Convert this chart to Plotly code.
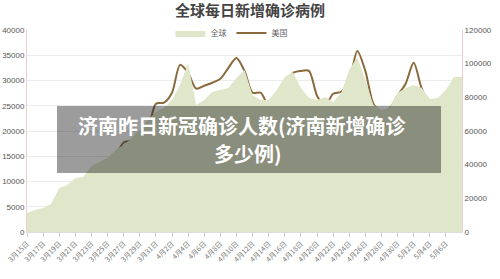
import plotly.graph_objects as go

# dates 3/15 .. 5/8
dates = [f"3月{d}日" for d in range(15, 32)] + [f"4月{d}日" for d in range(1, 31)] + [f"5月{d}日" for d in range(1, 9)]

global_cases = [11290, 13070, 14260, 16630, 26140, 27920, 32080, 32670, 39200, 41580,
                43960, 48700, 51680, 55840, 60590, 66530, 71280, 73660, 78410, 87320,
                100390, 75440, 78410, 83160, 84350, 85540, 91480, 96230, 81380, 78410,
                78410, 84350, 92070, 95040, 85540, 79600, 78410, 80190, 77220, 82570,
                96230, 103950, 90290, 75440, 72470, 73660, 82570, 85540, 87320, 85540,
                79000, 79600, 84350, 92070, 92070]

us_cases = [None, None, 1576, 985, 5320, 5120, 6100, 7880, 10050, 9650,
            10835, 14775, 17730, 18120, 19300, 20490, 25400, 25600, 27580, 33100,
            31500, 28400, 28960, 29550, 30340, 32500, 34475, 31900, 27580, 27580,
            25020, 25020, 28960, 31500, 31900, 31900, 27000, 25020, 27380, 27780,
            29940, 35850, 31900, 25400, 23640, 24430, 27000, 29350, 33500, 28370,
            25020, 22460, 24030, 24430, 28370]

tick_labels = dates[0:53:2]

title_text = "全球每日新增确诊病例"
overlay_line1 = "济南昨日新冠确诊人数(济南新增确诊"
overlay_line2 = "多少例)"

fig = go.Figure()
fig.add_trace(go.Scatter(
    x=dates, y=global_cases, name="全球", mode="lines",
    line=dict(width=0, color="#dfe6c9"), fill="tozeroy", fillcolor="#dfe6c9",
    yaxis="y2"))
fig.add_trace(go.Scatter(
    x=dates, y=us_cases, name="美国", mode="lines",
    line=dict(width=2, color="#8a6a3c", shape="spline", smoothing=0.8),
    yaxis="y"))

fig.update_layout(
    width=500, height=279,
    margin=dict(l=27, r=38, t=30, b=47, autoexpand=False),
    paper_bgcolor="white", plot_bgcolor="white",
    font=dict(family="Liberation Sans, Noto Sans CJK SC", size=8, color="#555"),
    title=dict(text=title_text, x=0.5, xanchor="center", y=1 - 11 / 279, yanchor="middle",
               yref="container", automargin=False,
               font=dict(family="Noto Sans CJK SC", size=15, color="#444", weight="bold")),
    showlegend=True,
    legend=dict(orientation="h", x=0.47, xanchor="center", y=1 - 33 / 279, yanchor="middle",
                yref="container", bgcolor="rgba(0,0,0,0)",
                font=dict(family="Noto Sans CJK SC", size=8, color="#666"),
                itemwidth=30, traceorder="normal", tracegroupgap=0),
    xaxis=dict(type="category", categoryorder="array", categoryarray=dates,
               range=[0, len(dates) - 1], tickmode="array", tickvals=tick_labels,
               ticktext=tick_labels, tickangle=-45, ticks="outside", ticklen=4,
               tickcolor="#ccc", showline=True, linecolor="#ddd", showgrid=False,
               automargin=False,
               tickfont=dict(family="Noto Sans CJK SC", size=7, color="#777")),
    yaxis=dict(range=[0, 40000], dtick=5000, tickformat="d", showgrid=True, gridcolor="#ececec",
               showline=True, linecolor="#f0cccc", linewidth=1, zeroline=False,
               automargin=False, ticks="",
               tickfont=dict(family="Liberation Sans", size=8, color="#555")),
    yaxis2=dict(range=[0, 120000], dtick=20000, tickformat="d", overlaying="y", side="right",
                showgrid=False, showline=True, linecolor="#f0cccc", linewidth=1,
                zeroline=False, automargin=False, ticks="",
                tickfont=dict(family="Liberation Sans", size=8, color="#555")),
)

fig.add_shape(type="rect", xref="paper", yref="paper",
              x0=(57 - 27) / 435, x1=(441 - 27) / 435,
              y0=(232 - 173) / 202, y1=(232 - 106) / 202,
              fillcolor="rgba(25,25,25,0.43)", line=dict(width=0), layer="above")
fig.add_annotation(text=overlay_line1, xref="paper", yref="paper",
                   x=(242 - 27) / 435, y=(232 - 125) / 202, showarrow=False,
                   xanchor="center", yanchor="middle", align="center",
                   font=dict(family="Noto Sans CJK SC", size=20, color="white", weight="bold"))
fig.add_annotation(text=overlay_line2, xref="paper", yref="paper",
                   x=(248 - 27) / 435, y=(232 - 153) / 202, showarrow=False,
                   xanchor="center", yanchor="middle", align="center",
                   font=dict(family="Noto Sans CJK SC", size=20, color="white", weight="bold"))

fig.write_html("out.html")
